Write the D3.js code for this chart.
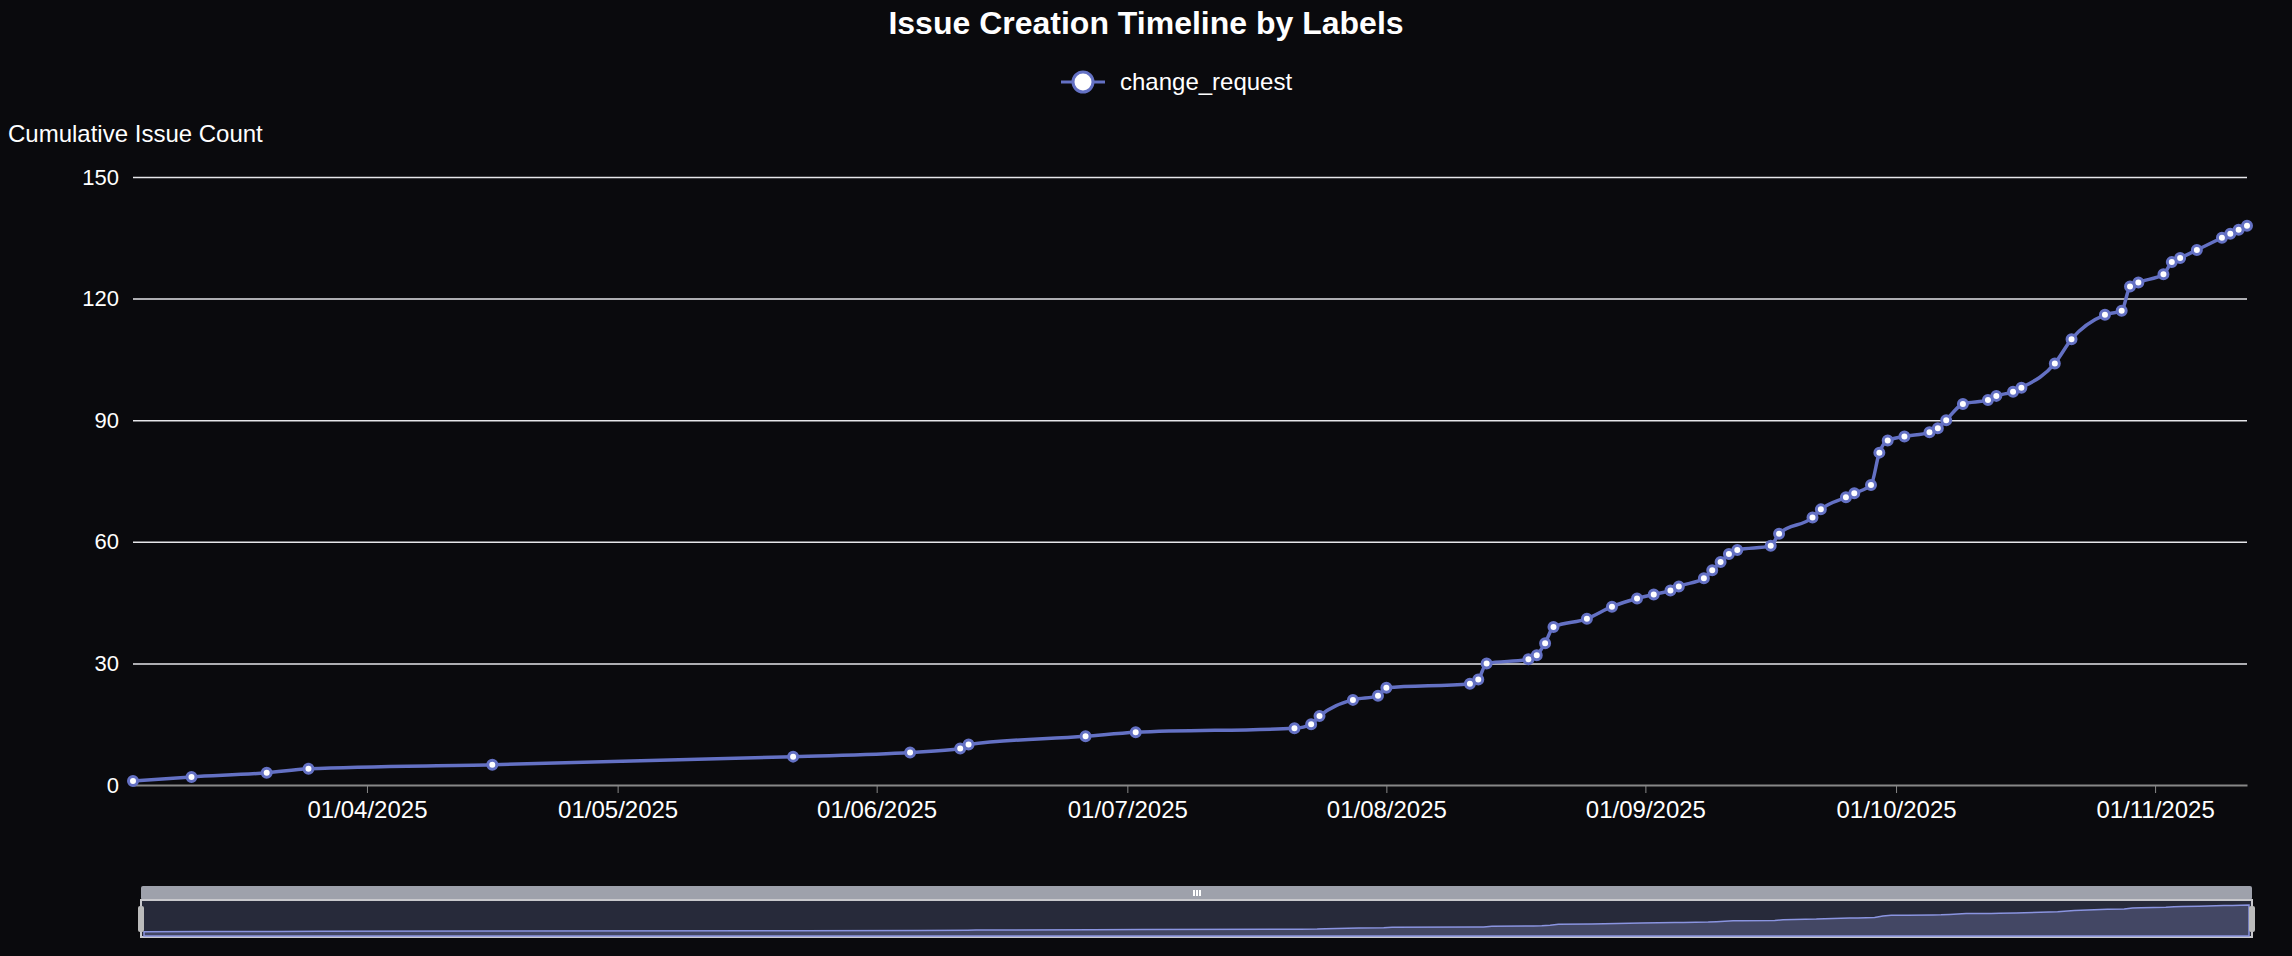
<!DOCTYPE html>
<html><head><meta charset="utf-8">
<script src="https://cdn.jsdelivr.net/npm/d3@7"></script>
<style>body{margin:0;background:#0a0a0d;}svg{display:block;font-family:"Liberation Sans",Arial,sans-serif;}</style>
</head><body><svg id="c" width="2292" height="956"></svg>
<script>
const dates = ["2025-03-04","2025-03-11","2025-03-20","2025-03-25","2025-04-16","2025-05-22","2025-06-05","2025-06-11","2025-06-12","2025-06-26","2025-07-02","2025-07-21","2025-07-23","2025-07-24","2025-07-28","2025-07-31","2025-08-01","2025-08-11","2025-08-12","2025-08-13","2025-08-18","2025-08-19","2025-08-20","2025-08-21","2025-08-25","2025-08-28","2025-08-31","2025-09-02","2025-09-04","2025-09-05","2025-09-08","2025-09-09","2025-09-10","2025-09-11","2025-09-12","2025-09-16","2025-09-17","2025-09-21","2025-09-22","2025-09-25","2025-09-26","2025-09-28","2025-09-29","2025-09-30","2025-10-02","2025-10-05","2025-10-06","2025-10-07","2025-10-09","2025-10-12","2025-10-13","2025-10-15","2025-10-16","2025-10-20","2025-10-22","2025-10-26","2025-10-28","2025-10-29","2025-10-30","2025-11-02","2025-11-03","2025-11-04","2025-11-06","2025-11-09","2025-11-10","2025-11-11","2025-11-12"];
const counts = [1,2,3,4,5,7,8,9,10,12,13,14,15,17,21,22,24,25,26,30,31,32,35,39,41,44,46,47,48,49,51,53,55,57,58,59,62,66,68,71,72,74,82,85,86,87,88,90,94,95,96,97,98,104,110,116,117,123,124,126,129,130,132,135,136,137,138];
const yTicks = [0,30,60,90,120,150];
const xTicks = ["2025-04-01","2025-05-01","2025-06-01","2025-07-01","2025-08-01","2025-09-01","2025-10-01","2025-11-01"];
const seriesName = "change_request";
const title = "Issue Creation Timeline by Labels";
const yName = "Cumulative Issue Count";

const p = d3.timeParse("%Y-%m-%d");
const data = dates.map((d,i)=>({d:p(d),v:counts[i]}));
const svg = d3.select("#c");
const L=133,R=2247,T=177,B=785;
const color="#6471c4";
const x = d3.scaleTime().domain(d3.extent(data,d=>d.d)).range([L,R]);
const y = d3.scaleLinear().domain([0,150]).range([B,T]);

svg.append("text").attr("x",1146).attr("y",34).attr("text-anchor","middle").attr("fill","#fff").attr("font-size",32).attr("font-weight","bold").text(title);
const lg = svg.append("g").attr("transform","translate(1083,82)");
lg.append("line").attr("x1",-22).attr("x2",22).attr("stroke",color).attr("stroke-width",3);
lg.append("circle").attr("r",10).attr("fill","#fff").attr("stroke",color).attr("stroke-width",3);
svg.append("text").attr("x",1120).attr("y",90).attr("fill","#fff").attr("font-size",24).text(seriesName);

svg.append("text").attr("x",8).attr("y",142).attr("fill","#fff").attr("font-size",24).text(yName);

const ya = svg.append("g").attr("transform",`translate(${L},0)`).call(d3.axisLeft(y).tickValues(yTicks).tickSize(-(R-L)).tickPadding(14));
ya.select(".domain").remove();
ya.selectAll(".tick line").attr("stroke",d=>d===0?"none":"#e6e6ea").attr("stroke-width",1.5);
ya.selectAll("text").attr("fill","#fff").attr("font-size",22).attr("font-family","Liberation Sans, Arial");

const xa = svg.append("g").attr("transform",`translate(0,${B})`).call(d3.axisBottom(x).tickValues(xTicks.map(p)).tickFormat(d3.timeFormat("%d/%m/%Y")).tickSize(8).tickPadding(8).tickSizeOuter(0));
xa.select(".domain").attr("stroke","#888").attr("stroke-width",2);
xa.selectAll(".tick line").attr("stroke","#888");
xa.selectAll("text").attr("fill","#fff").attr("font-size",24).attr("font-family","Liberation Sans, Arial");

svg.append("path").datum(data).attr("fill","none").attr("stroke",color).attr("stroke-width",3.5)
 .attr("d",d3.line().x(d=>x(d.d)).y(d=>y(d.v)).curve(d3.curveMonotoneX));
svg.selectAll("circle.pt").data(data).join("circle").attr("class","pt").attr("cx",d=>x(d.d)).attr("cy",d=>y(d.v)).attr("r",4.5).attr("fill","#fff").attr("stroke",color).attr("stroke-width",3);

const ZL=141,ZR=2252,ZT=900,ZB=937;
svg.append("rect").attr("x",ZL).attr("y",886).attr("width",ZR-ZL).attr("height",14).attr("fill","#9ea1ab").attr("rx",2);
[1193,1196,1199].forEach(v=>svg.append("rect").attr("x",v).attr("y",890).attr("width",2).attr("height",6).attr("fill","#fff"));
svg.append("rect").attr("x",ZL).attr("y",ZT).attr("width",ZR-ZL).attr("height",ZB-ZT).attr("fill","#272a3a").attr("stroke","#c8c8cc").attr("stroke-width",2);
const zx = d3.scaleTime().domain(x.domain()).range([ZL+3,ZR-3]);
const zy = d3.scaleLinear().domain([0,138]).range([ZB-5,ZT+5]);
svg.append("path").datum(data).attr("fill","#434764").attr("stroke","#8a94e0").attr("stroke-width",1.5)
 .attr("d",d3.area().x(d=>zx(d.d)).y0(ZB-1).y1(d=>zy(d.v)));
[ZL,ZR].forEach(v=>svg.append("rect").attr("x",v-3).attr("y",906).attr("width",6).attr("height",26).attr("rx",2).attr("fill","#bbb"));
</script></body></html>
